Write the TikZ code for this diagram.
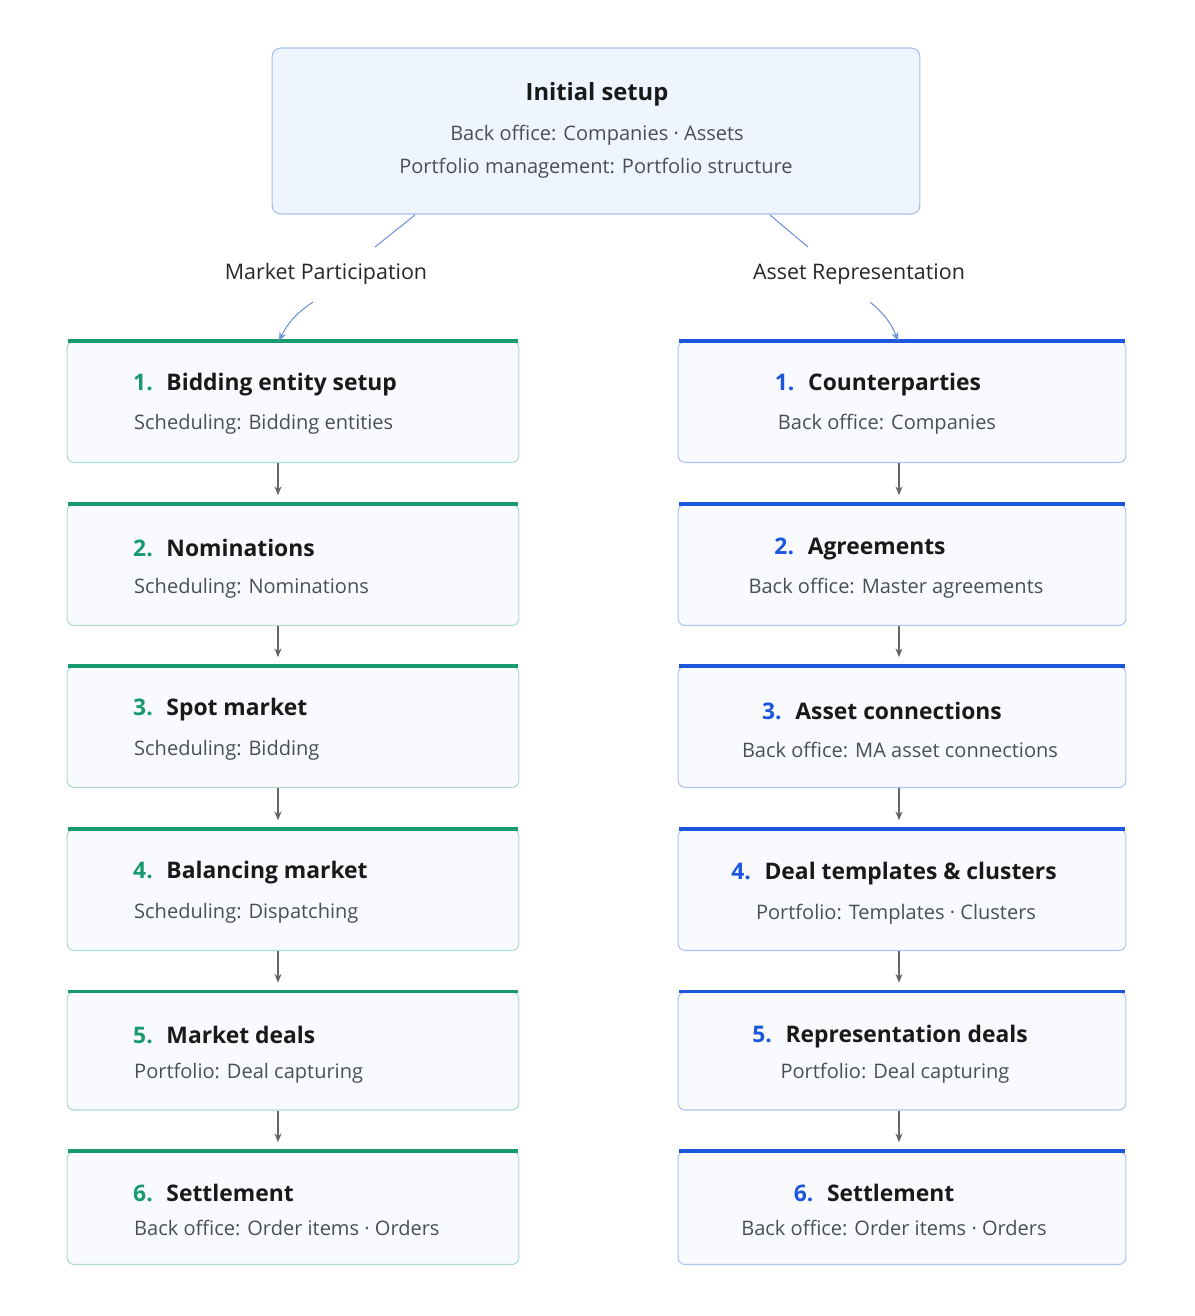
\documentclass[tikz,border=0pt]{standalone}
\usepackage{fontspec}
\setmainfont{Open Sans}
\usetikzlibrary{arrows.meta}
\definecolor{mpgreen}{HTML}{179A6E}
\definecolor{arblue}{HTML}{1B56DB}
\definecolor{boxfill}{HTML}{F8FAFD}
\definecolor{topfill}{HTML}{EFF5FE}
\definecolor{subgray}{HTML}{4A4F57}
\definecolor{linkblue}{HTML}{6E93DA}
\newcommand{\stepno}[2]{{\color{#1}#2.}\hspace{0.6em}}

\begin{document}
\begin{tikzpicture}[x=0.02cm, y=-0.02cm, >=Stealth,
    stepbox/.style = {draw=#1!35, fill=boxfill, rounded corners=4pt, line width=0.6pt,
      inner sep=0pt},
    title/.style = {font=\fontsize{13}{16}\selectfont\bfseries, text=black!90},
    sub/.style = {font=\fontsize{11.4}{13}\selectfont, text=subgray},
    branch/.style = {font=\fontsize{12.2}{14}\selectfont, text=black!85},
    flow/.style = {->, draw=black!60, line width=0.6pt, shorten >=5pt, >={Stealth[length=5pt,width=4pt]}},
    link/.style = {draw=linkblue, line width=0.6pt}]
    \useasboundingbox (0,0) rectangle (1195,1316);

    % Top box
    \node[draw=linkblue!60, fill=topfill, rounded corners=5pt, line width=0.6pt,
      minimum width=12.96cm, minimum height=3.32cm] (setup) at (596,131) {};
    \node[title, font=\fontsize{13.5}{16}\selectfont\bfseries] (setupT) at (597,94) {Initial setup};
    \node[sub] (setupA) at (597,135) {Back office: Companies · Assets};
    \node[sub] (setupB) at (596,168) {Portfolio management: Portfolio structure};

    % Branch labels
    \node[branch] (mp) at (326,274) {Market Participation};
    \node[branch] (ar) at (859,274) {Asset Representation};
    \coordinate (mpA) at (415,215);
    \coordinate (mpB) at (375,247);
    \coordinate (arA) at (770,215);
    \coordinate (arB) at (808,247);
    \draw[link] (mpA) -- (mpB);
    \draw[link] (arA) -- (arB);

    % Left column
    \foreach \i/\y/\h/\num/\ttl/\s/\ty/\sy in {
        1/402/2.42/1/Bidding entity setup/Scheduling: Bidding entities/385/424,
        2/565/2.42/2/Nominations/Scheduling: Nominations/548/588,
        3/727/2.42/3/Spot market/Scheduling: Bidding/710/750,
        4/890/2.42/4/Balancing market/Scheduling: Dispatching/873/913,
        5/1051/2.36/5/Market deals/Portfolio: Deal capturing/1035/1073,
        6/1208/2.26/6/Settlement/Back office: Order items · Orders/1193/1228} {
      \node[stepbox=mpgreen, minimum width=9.04cm, minimum height=\h cm] (L\i) at (293,\y) {};
      \draw[mpgreen, line width=2pt] ([xshift=1pt]L\i.north west) -- ([xshift=-1pt]L\i.north east);
      \node[title, anchor=west] (L\i t) at (127,\ty) {\stepno{mpgreen}{\num}\ttl};
      \node[sub, anchor=west] (L\i s) at (128,\sy) {\s};
    }

    % Right column
    \foreach \i/\y/\h/\num/\ttl/\s/\ty/\sy/\tx/\sx in {
        1/402/2.42/1/Counterparties/Back office: Companies/385/424/878/887,
        2/565/2.42/2/Agreements/Back office: Master agreements/549/588/860/896,
        3/727/2.42/3/Asset connections/Back office: MA asset connections/711/750/882/900,
        4/890/2.42/4/Deal templates \& clusters/Portfolio: Templates · Clusters/874/914/894/896,
        5/1051/2.36/5/Representation deals/Portfolio: Deal capturing/1037/1073/890/895,
        6/1208/2.26/6/Settlement/Back office: Order items · Orders/1193/1228/874/894} {
      \node[stepbox=arblue, minimum width=8.96cm, minimum height=\h cm] (R\i) at (902,\y) {};
      \draw[arblue, line width=2pt] ([xshift=1pt]R\i.north west) -- ([xshift=-1pt]R\i.north east);
      \node[title] (R\i t) at (\tx,\ty) {\stepno{arblue}{\num}\ttl};
      \node[sub] (R\i s) at (\sx,\sy) {\s};
    }

    % Branch arrows
    \draw[link, ->, >={Stealth[length=5pt,width=4pt]}] (313,302) to[bend right=15] ([xshift=-8pt]L1.north);
    \draw[link, ->, >={Stealth[length=5pt,width=4pt]}] (870,302) to[bend left=15] (R1.north -| 898,0);

    % Flow arrows
    \foreach \a/\b in {1/2,2/3,3/4,4/5,5/6} {
      \draw[flow] (L\a.south -| 278,0) -- (L\b.north -| 278,0);
      \draw[flow] (R\a.south -| 899,0) -- (R\b.north -| 899,0);
    }
\end{tikzpicture}
\end{document}
